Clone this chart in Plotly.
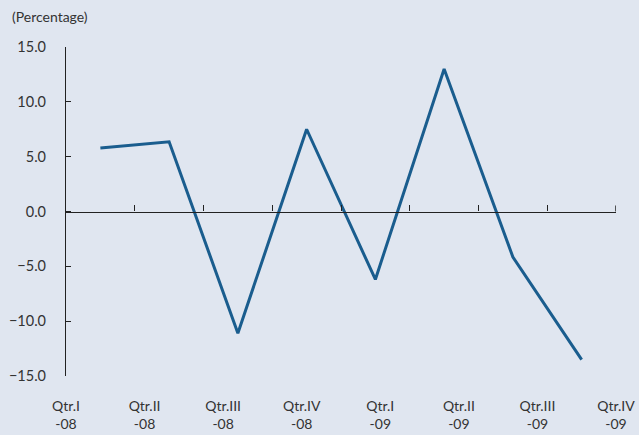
import plotly.graph_objects as go

quarters = ['Qtr.I-08', 'Qtr.II-08', 'Qtr.III-08', 'Qtr.IV-08',
            'Qtr.I-09', 'Qtr.II-09', 'Qtr.III-09', 'Qtr.IV-09']
tick_labels = ['Qtr.I<br>-08', 'Qtr.II<br>-08', 'Qtr.III<br>-08', 'Qtr.IV<br>-08',
               'Qtr.I<br>-09', 'Qtr.II<br>-09', 'Qtr.III<br>-09', 'Qtr.IV<br>-09']
growth = [5.8, 6.35, -11.1, 7.5, -6.2, 13.0, -4.15, -13.5]

bg = '#e0e6f0'
ink = '#333333'
axis_col = '#222222'
font_family = 'Lato, Open Sans, sans-serif'

fig = go.Figure()
fig.add_trace(go.Scatter(
    x=quarters, y=growth, mode='lines',
    line=dict(color='#1a5d8e', width=3),
    hoverinfo='x+y', showlegend=False,
))
# invisible trace so the bottom label axis gets drawn
fig.add_trace(go.Scatter(
    x=[0, len(tick_labels) - 1], y=[0, 0], xaxis='x2', mode='lines',
    line=dict(width=0), opacity=0, hoverinfo='skip', showlegend=False,
))

fig.update_layout(
    width=639, height=435,
    margin=dict(l=66, r=23, t=47, b=59, autoexpand=False),
    paper_bgcolor=bg, plot_bgcolor=bg,
    font=dict(family=font_family, size=14, color=ink),
    # x axis drawn through zero, with tick marks between the quarters
    xaxis=dict(
        type='category', range=[-0.5, 7.5],
        anchor='free', position=0.5, automargin=False,
        showline=True, linecolor=axis_col, linewidth=1.2,
        ticks='inside', ticklen=6, tickwidth=1, tickcolor=axis_col,
        tickson='boundaries', showticklabels=False,
        showgrid=False, zeroline=False,
    ),
    # label axis along the bottom
    xaxis2=dict(
        overlaying='x', anchor='y', side='bottom', automargin=False,
        range=[0, 7], tickvals=list(range(8)), ticktext=tick_labels,
        showline=False, ticks='', showgrid=False, zeroline=False,
        ticklabelstandoff=20, tickfont=dict(size=14, color=ink),
    ),
    yaxis=dict(
        range=[-15, 15], tickvals=[-15, -10, -5, 0, 5, 10, 15],
        tickformat='.1f', automargin=False,
        showline=True, linecolor=axis_col, linewidth=1.2,
        ticks='inside', ticklen=5, tickwidth=1, tickcolor=axis_col,
        ticklabelstandoff=16,
        showgrid=False, zeroline=False,
        tickfont=dict(size=14.5, color=ink),
    ),
    # closing tick at the right end of the zero axis
    shapes=[dict(
        type='line', xref='x', yref='y', x0=7.5, x1=7.5,
        ysizemode='pixel', yanchor=0, y0=0, y1=6,
        line=dict(color=axis_col, width=1.5),
    )],
    annotations=[dict(
        text='(Percentage)', xref='paper', yref='paper',
        x=-0.102, y=1.0, xanchor='left', yanchor='bottom', yshift=20,
        showarrow=False, font=dict(size=14, color=ink),
    )],
)

fig.write_html(
    'out.html',
    config={'displayModeBar': False},
    post_script="document.body.style.margin='0';document.body.style.background='%s';" % bg,
)
